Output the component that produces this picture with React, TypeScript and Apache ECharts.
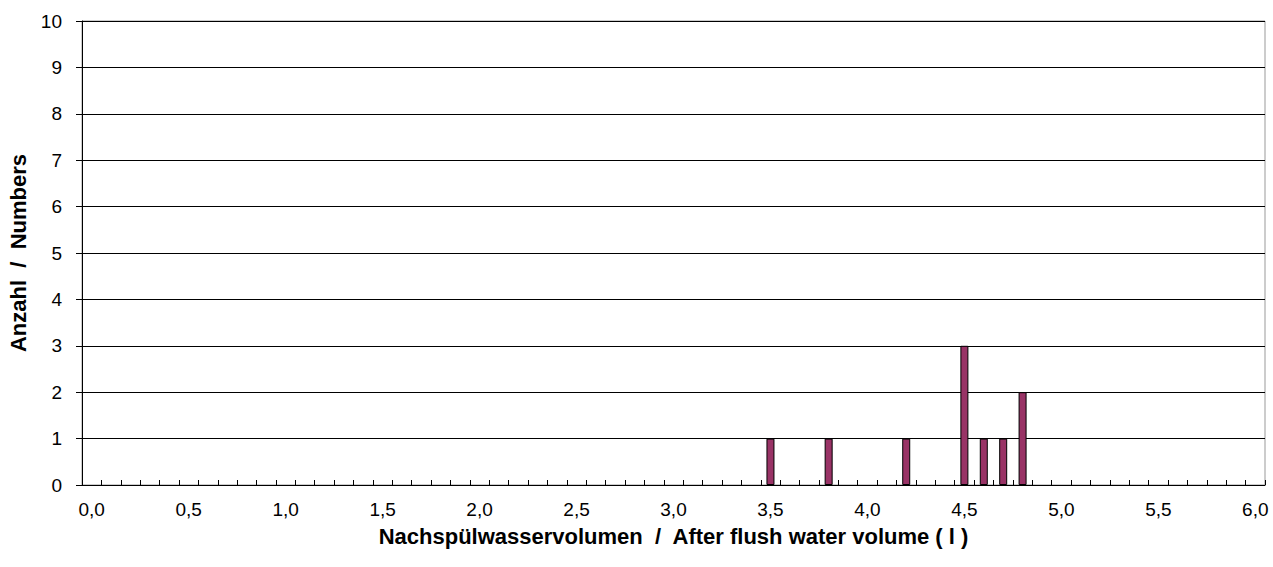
import React, { useEffect, useRef } from "react";
import * as echarts from "echarts";

const categories: string[] = [
  "0,0","0,1","0,2","0,3","0,4","0,5","0,6","0,7","0,8","0,9",
  "1,0","1,1","1,2","1,3","1,4","1,5","1,6","1,7","1,8","1,9",
  "2,0","2,1","2,2","2,3","2,4","2,5","2,6","2,7","2,8","2,9",
  "3,0","3,1","3,2","3,3","3,4","3,5","3,6","3,7","3,8","3,9",
  "4,0","4,1","4,2","4,3","4,4","4,5","4,6","4,7","4,8","4,9",
  "5,0","5,1","5,2","5,3","5,4","5,5","5,6","5,7","5,8","5,9",
  "6,0",
];

const counts: number[] = [
  0,0,0,0,0,0,0,0,0,0,
  0,0,0,0,0,0,0,0,0,0,
  0,0,0,0,0,0,0,0,0,0,
  0,0,0,0,0,1,0,0,1,0,
  0,0,1,0,0,3,1,1,2,0,
  0,0,0,0,0,0,0,0,0,0,
  0,
];

const yTitle = "Anzahl  /  Numbers";
const xTitle = "Nachspülwasservolumen  /  After flush water volume ( l )";

export default function App() {
  const ref = useRef<HTMLDivElement>(null);
  useEffect(() => {
    if (!ref.current) return;
    const chart = echarts.init(ref.current, null, { renderer: "svg" });
    chart.setOption({
      animation: false,
      backgroundColor: "#ffffff",
      textStyle: { fontFamily: "Liberation Sans, Arial, sans-serif" },
      grid: {
        left: 82,
        right: 8,
        top: 21,
        bottom: 82,
        containLabel: false,
        outerBoundsMode: "none",
        show: true,
        borderColor: "#999999",
        borderWidth: 1,
        backgroundColor: "transparent",
      },
      xAxis: {
        type: "category",
        data: categories,
        boundaryGap: true,
        name: xTitle,
        nameLocation: "middle",
        nameGap: 40,
        nameTextStyle: { fontSize: 22, fontWeight: "bold", color: "#000" },
        axisLine: { lineStyle: { color: "#000", width: 1 } },
        axisTick: { show: true, inside: true, length: 5, interval: 0, alignWithLabel: false, lineStyle: { color: "#000" } },
        axisLabel: { interval: 4, fontSize: 19, color: "#000", margin: 15 },
        splitLine: { show: false },
      },
      yAxis: {
        type: "value",
        min: 0,
        max: 10,
        interval: 1,
        name: yTitle,
        nameLocation: "middle",
        nameGap: 52,
        nameTextStyle: { fontSize: 22, fontWeight: "bold", color: "#000" },
        axisLine: { show: true, lineStyle: { color: "#000", width: 1 } },
        axisTick: { show: true, inside: false, length: 6, lineStyle: { color: "#000" } },
        axisLabel: { fontSize: 19, color: "#000", margin: 20 },
        splitLine: { show: true, lineStyle: { color: "#000", width: 1 } },
      },
      series: [
        {
          type: "bar",
          data: counts.map((v) => (v === 0 ? null : v)),
          barWidth: 8,
          itemStyle: { color: "#993366", borderColor: "#000", borderWidth: 1 },
        },
      ],
    });
    return () => chart.dispose();
  }, []);
  return (
    <div
      ref={ref}
      style={{ position: "absolute", left: 0, top: 0, width: 1273, height: 567 }}
    />
  );
}
